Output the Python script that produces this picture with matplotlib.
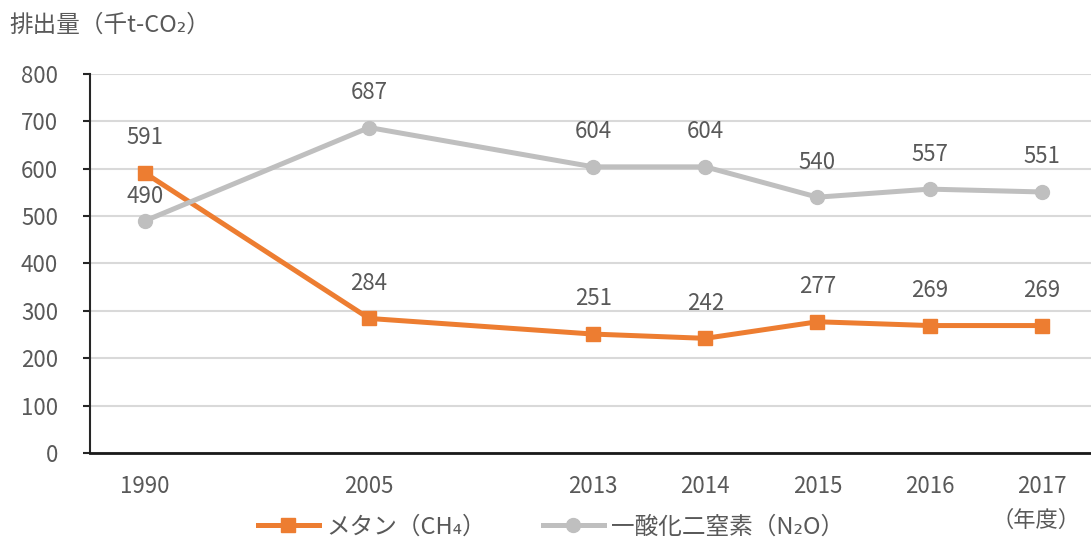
import matplotlib.pyplot as plt

plt.rcParams['font.family'] = ['Noto Sans CJK JP', 'DejaVu Sans']

# --- données ---
annees = ["1990", "2005", "2013", "2014", "2015", "2016", "2017"]
positions = [0, 2, 4, 5, 6, 7, 8]
methane = [591, 284, 251, 242, 277, 269, 269]
n2o = [490, 687, 604, 604, 540, 557, 551]

orange = "#ED7D31"
gris = "#BFBFBF"
texte = "#595959"

fig = plt.figure(figsize=(10.91, 5.41), dpi=100)
ax = fig.add_axes([0.0825, 0.1627, 0.9175, 0.7005])

ax.plot(positions, methane, color=orange, lw=3.6, marker="s", ms=10.5,
        label="メタン（CH₄）", zorder=3)
ax.plot(positions, n2o, color=gris, lw=3.6, marker="o", ms=10,
        label="一酸化二窒素（N₂O）", zorder=3)

for x, v in zip(positions, methane):
    ax.annotate(str(v), (x, v), xytext=(0, 17), textcoords="offset points",
                ha="center", va="bottom", fontsize=16, color=texte)
for i, (x, v) in enumerate(zip(positions, n2o)):
    # l'étiquette de 1990 est plus proche du point (chevauchement avec 591)
    dy = 9 if i == 0 else 17
    ax.annotate(str(v), (x, v), xytext=(0, dy), textcoords="offset points",
                ha="center", va="bottom", fontsize=16, color=texte)

ax.set_xlim(-0.49, 8.44)
ax.set_ylim(0, 800)
ax.set_yticks(range(0, 801, 100))
ax.set_xticks(positions)
ax.set_xticklabels(annees)
ax.tick_params(axis="y", labelsize=16, colors=texte, length=5, width=1.5, pad=18)
ax.tick_params(axis="x", labelsize=16, colors=texte, length=0, pad=16)

ax.grid(axis="y", color="#D9D9D9", lw=1.5)
ax.set_axisbelow(True)
for s in ["top", "right"]:
    ax.spines[s].set_visible(False)
ax.spines["left"].set_color("#262626")
ax.spines["left"].set_linewidth(1.5)
ax.spines["bottom"].set_color("#1a1a1a")
ax.spines["bottom"].set_linewidth(2)
ax.tick_params(axis="y", color="#262626")

fig.text(0.009, 0.953, "排出量（千t-CO₂）", fontsize=17, color=texte, va="center")
fig.text(0.95, 0.039, "（年度）", fontsize=16, color=texte, ha="center", va="center")

ax.legend(loc="center", bbox_to_anchor=(0.505, 0.026), bbox_transform=fig.transFigure,
          ncol=2, frameon=False, fontsize=17, labelcolor=texte,
          handlelength=2.6, handletextpad=0.3, columnspacing=2.4)

plt.savefig("out.png", dpi=100)
